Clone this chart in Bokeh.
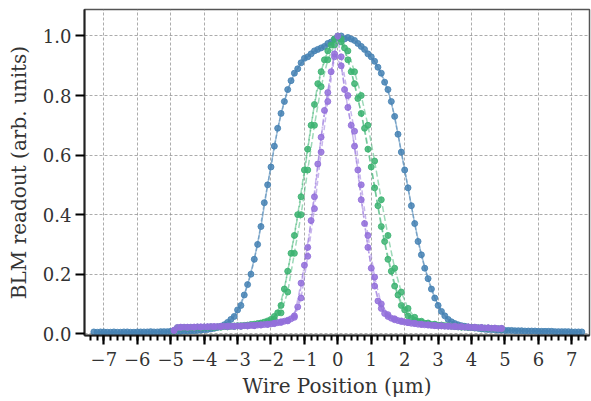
import numpy as np
from bokeh.plotting import figure
from bokeh.models import FixedTicker, Range1d
from bokeh.embed import file_html
from bokeh.resources import INLINE

# ---------------- data ----------------
blue_a_x = np.round(np.arange(-7.3, 7.31, 0.2), 2)
blue_a_y = [0.006, 0.006, 0.005, 0.006, 0.005, 0.006, 0.005, 0.006, 0.006, 0.006,
            0.007, 0.007, 0.008, 0.008, 0.009, 0.010, 0.012, 0.014, 0.018, 0.025,
            0.038, 0.058, 0.095, 0.165, 0.25, 0.36, 0.50, 0.63, 0.74, 0.82,
            0.875, 0.91, 0.93, 0.95, 0.96, 0.975, 0.99,
            1.0, 0.995, 0.985, 0.965, 0.94, 0.915, 0.875, 0.82, 0.73, 0.61,
            0.49, 0.37, 0.265, 0.185, 0.12, 0.075, 0.048, 0.034, 0.027, 0.022,
            0.019, 0.016, 0.014, 0.013, 0.012, 0.011, 0.010, 0.010, 0.009, 0.009,
            0.008, 0.008, 0.007, 0.007, 0.007, 0.006, 0.006]

blue_b_x = np.round(np.arange(-7.2, 7.21, 0.2), 2)
blue_b_y = [0.005, 0.006, 0.005, 0.005, 0.006, 0.005, 0.006, 0.006, 0.007, 0.006,
            0.007, 0.008, 0.008, 0.009, 0.010, 0.011, 0.013, 0.016, 0.021, 0.030,
            0.048, 0.080, 0.13, 0.20, 0.30, 0.44, 0.56, 0.69, 0.78, 0.85,
            0.89, 0.925, 0.94, 0.955, 0.965, 0.98,
            0.995,
            0.99, 0.99, 0.975, 0.955, 0.93, 0.895, 0.845, 0.78, 0.67, 0.55,
            0.43, 0.31, 0.22, 0.15, 0.095, 0.06, 0.04, 0.03, 0.025, 0.021,
            0.018, 0.015, 0.014, 0.012, 0.011, 0.011, 0.010, 0.009, 0.009, 0.008,
            0.008, 0.008, 0.007, 0.007, 0.006, 0.006]

green_1_x = np.round(np.arange(-4.9, 4.91, 0.2), 2)
green_1_y = [0.008, 0.02, 0.02, 0.021, 0.021, 0.022, 0.022, 0.023, 0.024, 0.026,
             0.027, 0.029, 0.032, 0.036, 0.043, 0.058, 0.095, 0.21, 0.33, 0.46,
             0.62, 0.77, 0.88, 0.95, 0.99, 0.98, 0.92, 0.84, 0.74, 0.62,
             0.49, 0.36, 0.25, 0.16, 0.095, 0.06, 0.045, 0.038, 0.033, 0.03,
             0.028, 0.026, 0.024, 0.022, 0.021, 0.02, 0.019, 0.018, 0.017, 0.016]

green_2_x = np.round(np.arange(-4.8, 4.81, 0.2), 2)
green_2_y = [0.02, 0.021, 0.021, 0.022, 0.022, 0.023, 0.023, 0.024, 0.025, 0.027,
             0.028, 0.031, 0.034, 0.039, 0.048, 0.07, 0.15, 0.27, 0.40, 0.55,
             0.70, 0.84, 0.92, 0.97,
             1.0,
             0.96, 0.88, 0.79, 0.69, 0.56, 0.43, 0.31, 0.21, 0.13, 0.08,
             0.052, 0.041, 0.035, 0.031, 0.029, 0.027, 0.025, 0.023, 0.022, 0.021,
             0.02, 0.019, 0.018, 0.017]

green_3_x = np.round(np.arange(-4.9, 4.91, 0.2), 2)
green_3_y = [0.01, 0.019, 0.019, 0.02, 0.02, 0.021, 0.021, 0.022, 0.023, 0.024,
             0.025, 0.027, 0.029, 0.033, 0.038, 0.048, 0.07, 0.14, 0.27, 0.40,
             0.55, 0.70, 0.83, 0.92, 0.97, 0.99, 0.95, 0.88, 0.80, 0.70,
             0.58, 0.45, 0.33, 0.22, 0.14, 0.085, 0.055, 0.042, 0.036, 0.032,
             0.029, 0.027, 0.025, 0.023, 0.022, 0.021, 0.02, 0.019, 0.018, 0.017]

purple_1_x = np.round(np.arange(-4.9, 4.91, 0.2), 2)
purple_1_y = [0.01, 0.022, 0.022, 0.022, 0.023, 0.023, 0.024, 0.024, 0.025, 0.025,
              0.026, 0.027, 0.028, 0.03, 0.032, 0.035, 0.04, 0.045, 0.06, 0.17,
              0.29, 0.46, 0.66, 0.81, 0.94, 0.90, 0.76, 0.63, 0.45, 0.29,
              0.16, 0.085, 0.058, 0.047, 0.041, 0.037, 0.034, 0.031, 0.029, 0.027,
              0.026, 0.025, 0.024, 0.023, 0.022, 0.021, 0.02, 0.019, 0.018, 0.017]

purple_2_x = np.round(np.arange(-4.8, 4.81, 0.2), 2)
purple_2_y = [0.021, 0.022, 0.022, 0.023, 0.023, 0.024, 0.024, 0.025, 0.025, 0.026,
              0.027, 0.028, 0.029, 0.031, 0.033, 0.037, 0.042, 0.05, 0.09, 0.23,
              0.38, 0.57, 0.75, 0.88,
              1.0,
              0.82, 0.70, 0.55, 0.37, 0.22, 0.11, 0.068, 0.052, 0.044, 0.039,
              0.035, 0.032, 0.03, 0.028, 0.026, 0.025, 0.024, 0.023, 0.022, 0.021,
              0.02, 0.019, 0.018, 0.017]

purple_3_x = np.round(np.arange(-4.9, 4.91, 0.2), 2)
purple_3_y = [0.012, 0.021, 0.021, 0.022, 0.022, 0.023, 0.023, 0.024, 0.024, 0.025,
              0.025, 0.026, 0.027, 0.029, 0.031, 0.034, 0.038, 0.043, 0.055, 0.12,
              0.26, 0.42, 0.61, 0.78, 0.93, 0.93, 0.80, 0.68, 0.50, 0.33,
              0.19, 0.10, 0.064, 0.05, 0.043, 0.038, 0.035, 0.032, 0.03, 0.028,
              0.027, 0.026, 0.025, 0.024, 0.023, 0.022, 0.021, 0.02, 0.019, 0.018]

x_major_ticks = list(range(-7, 8))
y_major_ticks = [0.0, 0.2, 0.4, 0.6, 0.8, 1.0]

BLUE = "#4682b4"
GREEN = "#3cb371"
PURPLE = "#9370db"
FONT = "DejaVu Serif"

# ---------------- figure ----------------
p = figure(width=591, height=400, output_backend="svg", toolbar_location=None,
           x_range=Range1d(-7.58, 7.53), y_range=Range1d(-0.006, 1.089))
p.min_border_left = 84
p.min_border_right = 2
p.min_border_top = 9
p.min_border_bottom = 63
p.background_fill_color = "white"
p.border_fill_color = "white"
p.outline_line_color = "#555555"
p.outline_line_width = 1.5

series = [
    (blue_a_x, blue_a_y, BLUE, "solid"),
    (blue_b_x, blue_b_y, BLUE, "4 2"),
    (green_1_x, green_1_y, GREEN, "6 3"),
    (green_2_x, green_2_y, GREEN, "6 3"),
    (green_3_x, green_3_y, GREEN, "6 3"),
    (purple_1_x, purple_1_y, PURPLE, "6 3"),
    (purple_2_x, purple_2_y, PURPLE, "6 2 2 2"),
    (purple_3_x, purple_3_y, PURPLE, "5 3"),
]
for xs, ys, col, dash in series:
    p.line(xs, ys, line_color=col, line_width=1.5, line_alpha=0.5, line_dash=dash)
    p.scatter(xs, ys, size=6, fill_color=col, line_color=col,
              fill_alpha=0.85, line_alpha=0.85)

# ---------------- axes ----------------
minor = [round(-7.4 + 0.2 * i, 1) for i in range(75)]
p.xaxis.ticker = FixedTicker(ticks=x_major_ticks, minor_ticks=minor)
p.yaxis.ticker = FixedTicker(ticks=y_major_ticks)
p.xaxis.major_label_overrides = {t: (("\u2212" + str(-t)) if t < 0 else str(t)) for t in x_major_ticks}
p.yaxis.major_label_overrides = {t: f"{t:.1f}" for t in y_major_ticks}

for ax in (p.xaxis[0], p.yaxis[0]):
    ax.axis_line_color = "#222222"
    ax.axis_line_width = 2
    ax.major_tick_line_color = "black"
    ax.major_tick_line_width = 2.2
    ax.major_tick_in = 0
    ax.major_tick_out = 9
    ax.minor_tick_line_color = "black"
    ax.minor_tick_line_width = 2
    ax.minor_tick_in = 0
    ax.major_label_text_font = FONT
    ax.major_label_text_font_size = "18px"
    ax.major_label_text_color = "#333333"
    ax.axis_label_text_font = FONT
    ax.axis_label_text_font_size = "20px"
    ax.axis_label_text_font_style = "normal"
    ax.axis_label_text_color = "#333333"
    ax.major_label_standoff = 4

p.xaxis.major_label_standoff = 7
p.xaxis.minor_tick_out = 5
p.yaxis.minor_tick_out = 0
p.xaxis.axis_label = "Wire Position (\u03bcm)"
p.yaxis.axis_label = "BLM readout (arb. units)"
p.xaxis.axis_label_standoff = 5
p.yaxis.axis_label_standoff = 9

p.xgrid.ticker = FixedTicker(ticks=x_major_ticks)
p.ygrid.ticker = FixedTicker(ticks=y_major_ticks)
for g in (p.xgrid[0], p.ygrid[0]):
    g.grid_line_color = "#8c8c8c"
    g.grid_line_alpha = 0.9
    g.grid_line_width = 0.8
    g.grid_line_dash = "3 2"

open("out.html", "w").write(file_html(p, INLINE))
